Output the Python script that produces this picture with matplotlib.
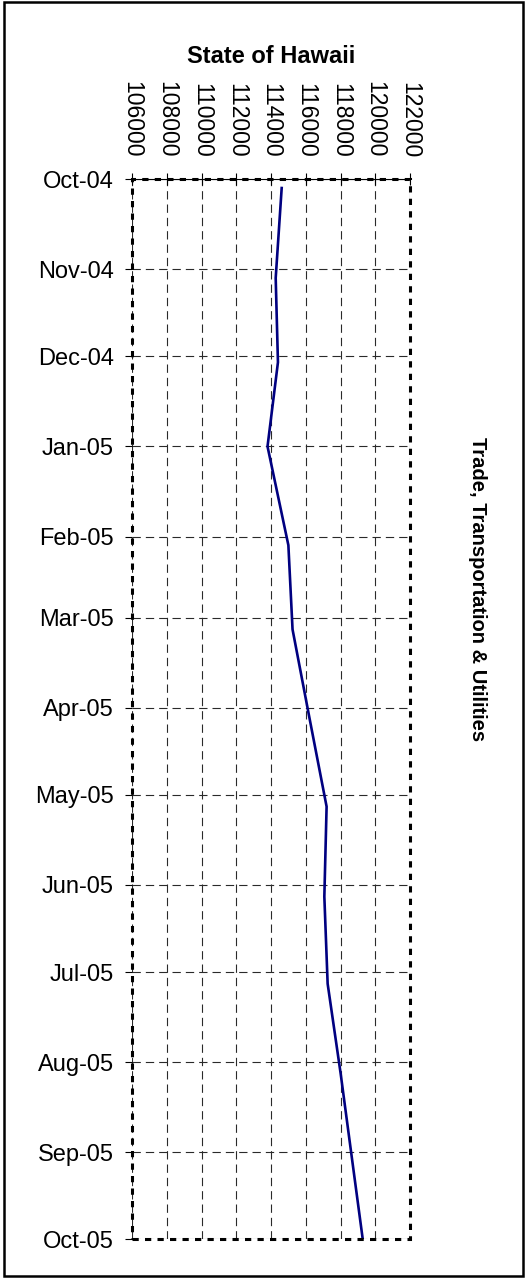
import matplotlib
matplotlib.use('Agg')
import matplotlib.pyplot as plt
import matplotlib.dates as mdates
from matplotlib.patches import Rectangle
import numpy as np

plt.rcParams['font.family'] = ['Liberation Sans', 'DejaVu Sans']
plt.rcParams['lines.scale_dashes'] = False

# monthly employment, Trade, Transportation & Utilities (State of Hawaii)
dates = ['2004-10-04', '2004-11-04', '2004-12-03', '2005-01-01', '2005-02-04',
         '2005-03-05', '2005-04-05', '2005-05-05', '2005-06-05', '2005-07-05',
         '2005-08-05', '2005-09-05', '2005-10-05']
employment = [114615, 114270, 114400, 113800, 115000, 115240, 116230,
              117200, 117070, 117260, 118010, 118700, 119370]

x_ticks = [106000, 108000, 110000, 112000, 114000, 116000, 118000, 120000, 122000]
axis_start = '2004-10-01'
axis_end = '2005-10-01'

W, H = 529, 1278
fig = plt.figure(figsize=(W / 100, H / 100), dpi=100)
ax = fig.add_axes([132 / W, 1 - 1239.3 / H, 278 / W, 1060 / H])

d = mdates.date2num(np.array(dates, dtype='datetime64[D]'))
ax.plot(employment, d, color='#000080', lw=1.9, zorder=3)

ax.set_xlim(x_ticks[0], x_ticks[-1])
ax.set_ylim(mdates.date2num(np.datetime64(axis_end)), mdates.date2num(np.datetime64(axis_start)))

ax.yaxis.set_major_locator(mdates.MonthLocator())
ax.yaxis.set_major_formatter(mdates.DateFormatter('%b-%y'))

ax.xaxis.tick_top()
ax.set_xticks(x_ticks)
ax.set_xticklabels([str(v) for v in x_ticks])
ax.tick_params(axis='x', direction='inout', length=9, width=0.8, pad=11,
               labelsize=16.5, labelrotation=-90)
ax.tick_params(axis='y', direction='out', length=5, width=0.8, pad=8, labelsize=17)

ax.grid(True, color='#2a2a2a', lw=0.8, linestyle=(0, (6, 3.6)))
ax.set_axisbelow(True)

for side in ['left', 'right', 'bottom']:
    ax.spines[side].set_visible(False)
ax.spines['top'].set_linewidth(0.8)

# dashed plot-area border
ax.add_patch(Rectangle((0, 0), 1, 1, transform=ax.transAxes, fill=False,
                       ec='black', lw=2.2, ls=(0, (4.5, 4.5)), clip_on=False, zorder=4))

fig.text(271 / W, 1 - 63 / H, 'State of Hawaii', ha='center', va='baseline',
         fontsize=17, fontweight='bold')
fig.text(477 / W, 1 - 589 / H, 'Trade, Transportation & Utilities', ha='center',
         va='center', rotation=-90, fontsize=14.5, fontweight='bold')

# outer chart border
fig.add_artist(Rectangle((4 / W, 2 / H), 519 / W, 1274 / H, transform=fig.transFigure,
                         fill=False, ec='black', lw=1.8))

fig.savefig('out.png', dpi=100)
